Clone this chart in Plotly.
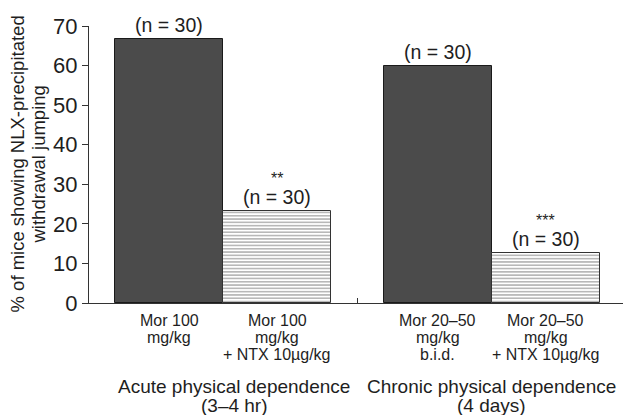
import plotly.graph_objects as go

# ---- data ----
categories = ["Mor 100 mg/kg", "Mor 100 mg/kg + NTX", "Mor 20-50 b.i.d.", "Mor 20-50 + NTX"]
values = [66.7, 23.3, 60.0, 12.7]
n_labels = ["(n = 30)", "(n = 30)", "(n = 30)", "(n = 30)"]
sig_labels = ["", "**", "", "***"]
cat_lines = [
    ["Mor 100", "mg/kg"],
    ["Mor 100", "mg/kg", "+ NTX 10\u00b5g/kg"],
    ["Mor 20\u201350", "mg/kg", "b.i.d."],
    ["Mor 20\u201350", "mg/kg", "+ NTX 10\u00b5g/kg"],
]
group_labels = [
    ["Acute physical dependence", "(3\u20134 hr)"],
    ["Chronic physical dependence", "(4 days)"],
]
y_ticks = [0, 10, 20, 30, 40, 50, 60, 70]
y_title_lines = ["% of mice showing NLX-precipitated", "withdrawal jumping"]

# ---- layout helpers ----
positions = [0, 1, 2.49, 3.49]
FONT = "Liberation Sans, Arial, Helvetica, sans-serif"
TXT = "#1e1e1e"

fig = go.Figure()

solid_idx = [0, 2]
hatch_idx = [1, 3]

fig.add_trace(go.Bar(
    x=[positions[i] for i in solid_idx],
    y=[values[i] for i in solid_idx],
    width=1.0,
    marker=dict(color="#4b4b4b", line=dict(color="#1a1a1a", width=1)),
    hoverinfo="skip",
))
fig.add_trace(go.Bar(
    x=[positions[i] for i in hatch_idx],
    y=[values[i] for i in hatch_idx],
    width=1.0,
    marker=dict(
        color="white",
        line=dict(color="#333333", width=1),
        pattern=dict(shape="-", fgcolor="#555555", bgcolor="white", size=3.3, solidity=0.42),
    ),
    hoverinfo="skip",
))

ann = []
# value labels
for i, p in enumerate(positions):
    ann.append(dict(x=p, y=values[i], xref="x", yref="y", text=n_labels[i],
                    showarrow=False, yanchor="bottom", yshift=1,
                    font=dict(size=19.5, color=TXT, family=FONT)))
    if sig_labels[i]:
        ann.append(dict(x=p, y=values[i], xref="x", yref="y", text=sig_labels[i],
                        showarrow=False, yanchor="bottom", yshift=22,
                        font=dict(size=16, color=TXT, family=FONT)))
# category labels
for i, p in enumerate(positions):
    for j, line in enumerate(cat_lines[i]):
        ann.append(dict(x=p, y=0, xref="x", yref="y", text=line, showarrow=False,
                        yanchor="middle", yshift=-(17 + 17 * j),
                        font=dict(size=16, color=TXT, family=FONT)))
# group labels
group_x = [(positions[0] + positions[1]) / 2, (positions[2] + positions[3]) / 2]
group_shift = [11, 0]
for g, gx in enumerate(group_x):
    for j, line in enumerate(group_labels[g]):
        ann.append(dict(x=gx, y=0, xref="x", yref="y", text=line, showarrow=False,
                        yanchor="middle", xshift=group_shift[g], yshift=-(83 + 19.5 * j),
                        font=dict(size=19, color=TXT, family=FONT)))
# y-axis title (two rotated lines)
for j, line in enumerate(y_title_lines):
    ann.append(dict(x=0, y=0.5, xref="paper", yref="paper", text=line, showarrow=False,
                    textangle=-90, xanchor="center", yanchor="middle",
                    xshift=-(72 - 21 * j),
                    font=dict(size=18.5, color=TXT, family=FONT)))

fig.update_layout(
    width=623, height=415,
    margin=dict(l=89, r=0, t=26, b=112),
    paper_bgcolor="white", plot_bgcolor="white",
    showlegend=False,
    bargap=0,
    annotations=ann,
    xaxis=dict(
        range=[-0.741, 4.203],
        showgrid=False, zeroline=False,
        showline=True, linecolor="#333333", linewidth=1,
        tickvals=[(positions[1] + positions[2]) / 2], ticktext=[""],
        ticks="inside", ticklen=5, tickcolor="#333333",
        fixedrange=True,
    ),
    yaxis=dict(
        range=[0, 70],
        tickvals=y_ticks,
        showgrid=False, zeroline=False,
        showline=True, linecolor="#333333", linewidth=1,
        ticks="outside", ticklen=6, tickcolor="#333333",
        tickfont=dict(size=22, color=TXT, family=FONT),
        fixedrange=True,
    ),
)

fig.write_html("out.html", config={"displayModeBar": False},
               post_script="document.body.style.margin='0';")
